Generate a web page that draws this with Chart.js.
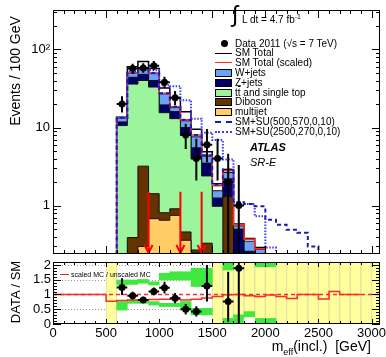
<!DOCTYPE html>
<html>
<head>
<meta charset="utf-8">
<title>m_eff SR-E</title>
<script src="https://cdn.jsdelivr.net/npm/chart.js@4.4.1/dist/chart.umd.min.js"></script>
<style>
  body { margin: 0; background: #fff; }
  #plot { position: relative; width: 386px; height: 357px; overflow: hidden;
          font-family: "Liberation Sans", Arial, Helvetica, sans-serif; color: #000; }
  #plot canvas { position: absolute; left: 0; }
  .txt { position: absolute; white-space: nowrap; line-height: 1; }
  .leg { position: absolute; left: 235px; font-size: 10px; line-height: 12px; white-space: nowrap; }
  .key { position: absolute; box-sizing: border-box; }
  .ov { text-decoration: overline; }
</style>
</head>
<body>
<div id="plot">
  <canvas id="mainChart" width="386" height="258" style="top:0"></canvas>
  <canvas id="ratioChart" width="386" height="99" style="top:258px"></canvas>

  <div class="txt" style="left:15px;top:71px;font-size:14px;transform:translate(-50%,-50%) rotate(-90deg)">Events / 100 GeV</div>
  <div class="txt" style="left:15px;top:292px;font-size:13px;transform:translate(-50%,-50%) rotate(-90deg)">DATA / SM</div>
  <div class="txt" style="right:15px;top:339px;font-size:14px">m<span style="font-size:9px;position:relative;top:4px">eff</span>(incl.)&nbsp;&nbsp;[GeV]</div>

  <div class="txt" style="left:232px;top:3px;font-size:23px">∫</div>
  <div class="txt" style="left:242px;top:15px;font-size:10px">L dt = 4.7 fb<span style="font-size:7px;position:relative;top:-4px">-1</span></div>
  <div class="txt" style="left:250px;top:142px;font-size:11px;font-weight:bold;font-style:italic">ATLAS</div>
  <div class="txt" style="left:250px;top:157px;font-size:11px;font-style:italic">SR-E</div>

  <div class="key" style="left:60px;top:274px;width:9px;height:0;border-top:1.5px solid #ff2020"></div>
  <div class="txt" style="left:71px;top:271px;font-size:7px">scaled MC / unscaled MC</div>
  <div id="legend"></div>
</div>

<script>
// Axis ranges
const X_MIN = 0, X_MAX = 3080;
const Y_MIN = 0.24, Y_MAX = 320;
const R_MIN = 0, R_MAX = 2.1;
const BIN_W = 100;
const FLOOR = 1e-3;   // below the axis: empty bin

// MC stack (scaled), cumulative, one value per 100 GeV bin starting at 600 GeV
const mcStart     = 600;
const smTotal     = [13.5, 60, 70, 57, 32, 24, 15.9, 9.5, 4.9, 1.9, 2.9, 0.58, 0.38, 0.29];
const smScaled    = [13.2, 50, 56, 50, 27.5, 18.4, 12.6, 8.0, 4.4, 1.8, 2.8, 0.57, 0.37, 0.28];
const wjetsCum    = [13.1, 49.5, 55, 49, 27, 18, 12.2, 7.6, 4.3, 1.55, 2.65, 0.55, 0.35, 0.275];
const zjetsCum    = [11.8, 44, 48, 40, 19.5, 16, 10, 5.5, 3.5, 1.25, 2.2, 0.5, 0.26, 0];
const topCum      = [10.6, 36, 40, 33, 15.5, 13, 8, 4.0, 2.4, 0.98, 1.3, 0, 0, 0];
const dibosonCum  = [0, 0.39, 3.2, 1.42, 0.81, 0.91, 0.46, 0.27, 0.33, 0, 1.3, 0, 0, 0];
const multijetCum = [0, 0, 0.30, 0.68, 0.65, 0.75, 0.36, 0.25, 0, 0, 0, 0, 0, 0];

// SM + signal
const suStart = 600;
const su500   = [13.3, 50, 56, 50, 27.5, 18.4, 12.6, 8.0, 4.4, 1.85, 2.9, 1.1, 1.05, 0.98, 0.66, 0.57, 0.49, 0.45, 0.30];
const su2500  = [13.3, 52, 58, 54, 34.8, 33.8, 22.4, 13, 8.6, 6.9, 3.9, 1.1, 1.05, 0.73, 0.29];

// data, bin centres
const dataX   = [650, 750, 850, 950, 1050, 1150, 1250, 1350, 1450, 1550, 1650, 1750];
const dataVals = [20, 57, 58, 62, 38, 24, 8, 4, 6, 4, 2, 1];
const dataLo   = [15.6, 49.5, 50.4, 54.2, 32.0, 19.3, 5.3, 2.1, 3.6, 2.1, 0.24, 0.24];
const dataHi   = [25.1, 65.6, 66.7, 70.9, 44.8, 29.4, 11.2, 7.2, 9.6, 7.2, 4.6, 3.3];

const cutArrows = [900, 1200, 1400];
const arrowTop  = 1.5;

// ratio panel
const ratioX    = [650, 750, 850, 950, 1050, 1150, 1250, 1350, 1450, 1650, 1750];
const ratioVals = [1.24, 0.96, 0.81, 1.10, 1.23, 0.87, 0.50, 0.42, 1.29, 0.76, 1.89];
const ratioLo   = [0.98, 0.83, 0.71, 0.97, 1.03, 0.70, 0.32, 0.25, 0.76, 0.08, 0.0];
const ratioHi   = [1.55, 1.09, 0.92, 1.24, 1.43, 1.05, 0.68, 0.60, 2.0, 1.77, 2.1];

const scaleEdges = [0, 500, 600, 700, 800, 900, 1000, 1100, 1200, 1300, 1400, 1500, 1600, 1700,
                    1800, 1900, 2000, 2100, 2200, 2300, 2400, 2500, 2600, 2700, 2800, 2900];
const scaleRatio = [1.0, 0.77, 0.80, 0.81, 0.82, 0.83, 0.84, 0.84, 0.81, 0.84, 0.88, 0.93, 0.99,
                    1.0, 0.96, 0.93, 0.98, 0.93, 0.86, 1.0, 1.0, 0.85, 1.1, 1.0, 1.0];

const yellowBins = [500, 1500, 1600, 1700, 1800, 1900, 2000, 2100, 2200, 2300, 2400, 2500, 2600, 2700, 2800, 2900, 3000];
const bandUpBins = [600, 700, 800, 900, 1000, 1100, 1200, 1300, 1400, 1600, 1900, 2000];
const bandUpLo   = [1.32, 1.34, 1.38, 1.32, 1.49, 1.49, 1.49, 1.27, 1.27, 1.83, 1.94, 1.94];
const bandUpHi   = [1.49, 1.49, 1.51, 1.43, 1.72, 1.77, 1.77, 1.89, 1.89, 2.10, 2.10, 2.10];
const bandDnBins = [600, 700, 800, 900, 1000, 1100, 1200, 1300, 1400, 1600, 1700, 1800, 1900, 2000];
const bandDnLo   = [0.47, 0.70, 0.70, 0.64, 0.59, 0.59, 0.55, 0.31, 0.31, 0.00, 0.02, 0.25, 0.00, 0.00];
const bandDnHi   = [0.76, 0.81, 0.81, 0.76, 0.70, 0.70, 0.76, 0.53, 0.53, 0.19, 0.31, 0.42, 0.19, 0.19];
const whiteBins  = [1800];

const COL = {
    w: '#6aa3f5', z: '#000066', top: '#9cf59c', dib: '#663300', mj: '#ffcc66',
    red: '#ff2a2a', su500: '#1c1cb4', su2500: '#3c3cff', yellow: '#ffff9c', green: '#3fe83f'
};
const FONT = '"Liberation Sans", Arial, Helvetica, sans-serif';

// histogram outline points (step 'before' = value holds until the next edge)
function uniformEdges(start, n) {
    const e = [];
    for (let i = 0; i <= n; i++) e.push(start + i * BIN_W);
    return e;
}
function stepPoints(edges, vals, floor) {
    const pts = [];
    if (floor !== null) pts.push({ x: edges[0], y: floor });
    vals.forEach((v, i) => pts.push({ x: edges[i], y: v > 0 ? v : (floor === null ? v : floor) }));
    const last = vals[vals.length - 1];
    pts.push({ x: edges[vals.length], y: last > 0 ? last : (floor === null ? last : floor) });
    if (floor !== null) pts.push({ x: edges[vals.length], y: floor });
    return pts;
}
function stackLayer(vals, fill, order) {
    return {
        data: stepPoints(uniformEdges(mcStart, vals.length), vals, FLOOR),
        stepped: 'before', fill: 'start', backgroundColor: fill,
        borderColor: '#111', borderWidth: 1, pointRadius: 0, order: order
    };
}
function signalLine(vals, color, dash, order) {
    const pts = stepPoints(uniformEdges(suStart, vals.length), vals, Y_MIN);
    pts.unshift({ x: X_MIN, y: Y_MIN });
    pts.push({ x: X_MAX, y: Y_MIN });
    return { data: pts, stepped: 'before', fill: false, borderColor: color, borderWidth: 2,
             borderDash: dash, pointRadius: 0, order: order };
}
function binBars(bins, lo, hi, color, order) {
    return {
        type: 'bar', grouped: false, barPercentage: 1, categoryPercentage: 1,
        data: bins.map((b, i) => ({ x: b + BIN_W / 2, y: [Array.isArray(lo) ? lo[i] : lo, Array.isArray(hi) ? hi[i] : hi] })),
        backgroundColor: color, borderWidth: 0, order: order
    };
}

// ROOT-like frame with inward ticks
const rootFrame = {
    id: 'rootFrame',
    afterDraw(chart, args, o) {
        const { ctx, chartArea: a } = chart;
        const xs = chart.scales.x, ys = chart.scales.y;
        ctx.save();
        ctx.strokeStyle = '#000';
        ctx.lineWidth = 1;
        ctx.beginPath();
        for (let v = X_MIN; v <= X_MAX; v += 100) {
            const px = Math.round(xs.getPixelForValue(v)) + 0.5;
            const len = v % 500 === 0 ? o.xMaj : o.xMin;
            ctx.moveTo(px, a.bottom); ctx.lineTo(px, a.bottom - len);
            ctx.moveTo(px, a.top); ctx.lineTo(px, a.top + len);
        }
        o.yTicks.forEach(t => {
            const py = Math.round(ys.getPixelForValue(t.v)) + 0.5;
            const len = t.major ? o.yMaj : o.yMin;
            ctx.moveTo(a.left, py); ctx.lineTo(a.left + len, py);
            ctx.moveTo(a.right, py); ctx.lineTo(a.right - len, py);
        });
        ctx.stroke();
        ctx.strokeRect(Math.round(a.left) + 0.5, Math.round(a.top) + 0.5,
                       Math.round(a.width) - 1, Math.round(a.height) - 1);
        ctx.restore();
    }
};

// error bars of data points, and cut arrows
const errorBars = {
    id: 'errorBars',
    afterDatasetsDraw(chart, args, o) {
        const { ctx, chartArea: a } = chart;
        const xs = chart.scales.x, ys = chart.scales.y;
        ctx.save();
        ctx.beginPath();
        ctx.rect(a.left, a.top, a.width, a.height);
        ctx.clip();
        if (o.arrows) {
            ctx.strokeStyle = '#ff0000';
            ctx.lineWidth = 2;
            o.arrows.forEach(v => {
                const px = xs.getPixelForValue(v);
                const bot = a.bottom - 1;
                ctx.beginPath();
                ctx.moveTo(px, ys.getPixelForValue(o.arrowTop));
                ctx.lineTo(px, bot);
                ctx.moveTo(px - 4, bot - 8);
                ctx.lineTo(px, bot);
                ctx.lineTo(px + 4, bot - 8);
                ctx.stroke();
            });
        }
        ctx.strokeStyle = '#000';
        ctx.lineWidth = 2;
        chart.data.datasets.forEach(ds => {
            if (!ds.errLo) return;
            ds.data.forEach((p, i) => {
                const px = xs.getPixelForValue(p.x), py = ys.getPixelForValue(p.y);
                ctx.beginPath();
                ctx.moveTo(px, ys.getPixelForValue(Math.max(ds.errLo[i], ys.min)));
                ctx.lineTo(px, ys.getPixelForValue(Math.min(ds.errHi[i], ys.max)));
                ctx.moveTo(xs.getPixelForValue(p.x - BIN_W / 2), py);
                ctx.lineTo(xs.getPixelForValue(p.x + BIN_W / 2), py);
                ctx.stroke();
            });
        });
        ctx.restore();
    }
};

// dotted reference lines in the ratio panel
const refLines = {
    id: 'refLines',
    beforeDatasetsDraw(chart, args, o) {
        if (!o.values) return;
        const { ctx, chartArea: a } = chart;
        const ys = chart.scales.y;
        ctx.save();
        ctx.strokeStyle = '#9a9a9a';
        ctx.lineWidth = 1;
        ctx.setLineDash([1, 2]);
        o.values.forEach(v => {
            const py = Math.round(ys.getPixelForValue(v)) + 0.5;
            ctx.beginPath();
            ctx.moveTo(a.left, py);
            ctx.lineTo(a.right, py);
            ctx.stroke();
        });
        ctx.restore();
    }
};

// tick lists for the frame
const mainYTicks = [];
[0.1, 1, 10, 100].forEach(d => {
    for (let m = 1; m <= 9; m++) {
        const v = d * m;
        if (v >= Y_MIN && v <= Y_MAX) mainYTicks.push({ v: v, major: m === 1 });
    }
});
const ratioYTicks = [];
for (let i = 0; i <= 21; i++) ratioYTicks.push({ v: i / 10, major: i % 5 === 0 });
const xLabelTicks = [0, 500, 1000, 1500, 2000, 2500, 3000];

function fixWidth(w) {
    return s => { s.width = w; s.paddingTop = 0; s.paddingBottom = 0; };
}

// main panel
new Chart(document.getElementById('mainChart'), {
    type: 'line',
    data: {
        datasets: [
            { data: dataX.map((x, i) => ({ x: x, y: dataVals[i] })), showLine: false,
              pointRadius: 3.5, pointBackgroundColor: '#000', pointBorderWidth: 0,
              errLo: dataLo, errHi: dataHi, order: 1 },
            signalLine(su500, COL.su500, [4, 3], 2),
            signalLine(su2500, COL.su2500, [1.5, 1.5], 3),
            { data: stepPoints(uniformEdges(mcStart, smScaled.length), smScaled, FLOOR), stepped: 'before',
              fill: false, borderColor: COL.red, borderWidth: 1.5, pointRadius: 0, order: 4 },
            stackLayer(multijetCum, COL.mj, 5),
            stackLayer(dibosonCum, COL.dib, 6),
            stackLayer(topCum, COL.top, 7),
            stackLayer(zjetsCum, COL.z, 8),
            stackLayer(wjetsCum, COL.w, 9),
            { data: stepPoints(uniformEdges(mcStart, smTotal.length), smTotal, FLOOR), stepped: 'before',
              fill: 'start', backgroundColor: '#fff', borderColor: '#000', borderWidth: 1.5,
              pointRadius: 0, order: 10 }
        ]
    },
    options: {
        responsive: false,
        animation: false,
        layout: { padding: { top: 10, right: 6, bottom: 3, left: 0 } },
        scales: {
            x: { type: 'linear', min: X_MIN, max: X_MAX, display: false },
            y: {
                type: 'logarithmic', min: Y_MIN, max: Y_MAX,
                grid: { display: false, drawTicks: false }, border: { display: false },
                ticks: {
                    autoSkip: false, padding: 3, color: '#000', font: { family: FONT, size: 13 },
                    callback: v => (v === 100 ? '10\u00B2' : String(v))
                },
                afterBuildTicks: s => { s.ticks = [1, 10, 100].map(v => ({ value: v })); },
                afterFit: fixWidth(53)
            }
        },
        plugins: {
            legend: { display: false }, tooltip: { enabled: false },
            rootFrame: { xMaj: 8, xMin: 4, yMaj: 8, yMin: 4, yTicks: mainYTicks },
            errorBars: { arrows: cutArrows, arrowTop: arrowTop },
            refLines: {}
        }
    },
    plugins: [refLines, errorBars, rootFrame]
});

// ratio panel
new Chart(document.getElementById('ratioChart'), {
    type: 'bar',
    data: {
        datasets: [
            { type: 'line', data: ratioX.map((x, i) => ({ x: x, y: ratioVals[i] })), showLine: false,
              pointRadius: 3.5, pointBackgroundColor: '#000', pointBorderWidth: 0,
              errLo: ratioLo, errHi: ratioHi, order: 1 },
            { type: 'line', data: stepPoints(scaleEdges, scaleRatio, null), stepped: 'before', fill: false,
              borderColor: COL.red, borderWidth: 1.5, pointRadius: 0, order: 2 },
            { type: 'line', data: [{ x: X_MIN, y: 1 }, { x: X_MAX, y: 1 }], fill: false,
              borderColor: COL.red, borderWidth: 1.5, borderDash: [4, 3], pointRadius: 0, order: 3 },
            binBars(whiteBins, R_MIN, [0.19], '#ffffff', 4),
            binBars(bandUpBins, bandUpLo, bandUpHi, COL.green, 5),
            binBars(bandDnBins, bandDnLo, bandDnHi, COL.green, 6),
            Object.assign(binBars(yellowBins, R_MIN, R_MAX, COL.yellow, 7),
                          { borderWidth: 1, borderColor: '#e2e2a6', borderSkipped: false })
        ]
    },
    options: {
        responsive: false,
        animation: false,
        layout: { padding: { top: 3, right: 6, bottom: 0, left: 0 } },
        scales: {
            x: {
                type: 'linear', min: X_MIN, max: X_MAX, offset: false,
                grid: { display: false, drawTicks: false }, border: { display: false },
                ticks: { autoSkip: false, maxRotation: 0, padding: 2, color: '#000', font: { family: FONT, size: 13 },
                         callback: v => String(v) },
                afterBuildTicks: s => { s.ticks = xLabelTicks.map(v => ({ value: v })); },
                afterFit: s => { s.height = 33; s.paddingLeft = 0; s.paddingRight = 0; }
            },
            y: {
                min: R_MIN, max: R_MAX,
                grid: { display: false, drawTicks: false }, border: { display: false },
                ticks: { autoSkip: false, padding: 2, color: '#000', font: { family: FONT, size: 13 },
                         callback: v => String(v) },
                afterBuildTicks: s => { s.ticks = [0, 0.5, 1, 1.5, 2].map(v => ({ value: v })); },
                afterFit: fixWidth(53)
            }
        },
        plugins: {
            legend: { display: false }, tooltip: { enabled: false },
            rootFrame: { xMaj: 5, xMin: 3, yMaj: 8, yMin: 4, yTicks: ratioYTicks },
            errorBars: {},
            refLines: { values: [0.5, 1.5, 2] }
        }
    },
    plugins: [refLines, errorBars, rootFrame]
});

// legend
const legendRows = [
    { label: 'Data 2011 (\u221As = 7 TeV)', key: 'dot' },
    { label: 'SM Total', key: 'line', color: '#000' },
    { label: 'SM Total (scaled)', key: 'line', color: COL.red },
    { label: 'W+jets', key: 'box', color: COL.w },
    { label: 'Z+jets', key: 'box', color: COL.z },
    { label: 't<span class="ov">t</span> and single top', key: 'box', color: COL.top },
    { label: 'Diboson', key: 'box', color: COL.dib },
    { label: 'multijet', key: 'box', color: COL.mj },
    { label: 'SM+SU(500,570,0,10)', key: 'dash', color: COL.su500 },
    { label: 'SM+SU(2500,270,0,10)', key: 'dot2', color: COL.su2500 }
];
const legendEl = document.getElementById('legend');
legendRows.forEach((r, i) => {
    const cy = 43.5 + i * 9.8;
    let key = '';
    if (r.key === 'dot') {
        key = `<div class="key" style="left:220.5px;top:${cy - 3.5}px;width:7px;height:7px;border-radius:50%;background:#000"></div>`;
    } else if (r.key === 'line') {
        key = `<div class="key" style="left:215px;top:${cy - 0.75}px;width:17px;height:0;border-top:1.5px solid ${r.color}"></div>`;
    } else if (r.key === 'box') {
        key = `<div class="key" style="left:215px;top:${cy - 4}px;width:17px;height:8px;border:1px solid #000;background:${r.color}"></div>`;
    } else if (r.key === 'dash') {
        key = `<div class="key" style="left:215px;top:${cy - 1}px;width:17px;height:0;border-top:2px dashed ${r.color}"></div>`;
    } else {
        key = `<div class="key" style="left:215px;top:${cy - 1}px;width:17px;height:0;border-top:2px dotted ${r.color}"></div>`;
    }
    legendEl.insertAdjacentHTML('beforeend', key + `<div class="leg" style="top:${cy - 6}px">${r.label}</div>`);
});
</script>
</body>
</html>
